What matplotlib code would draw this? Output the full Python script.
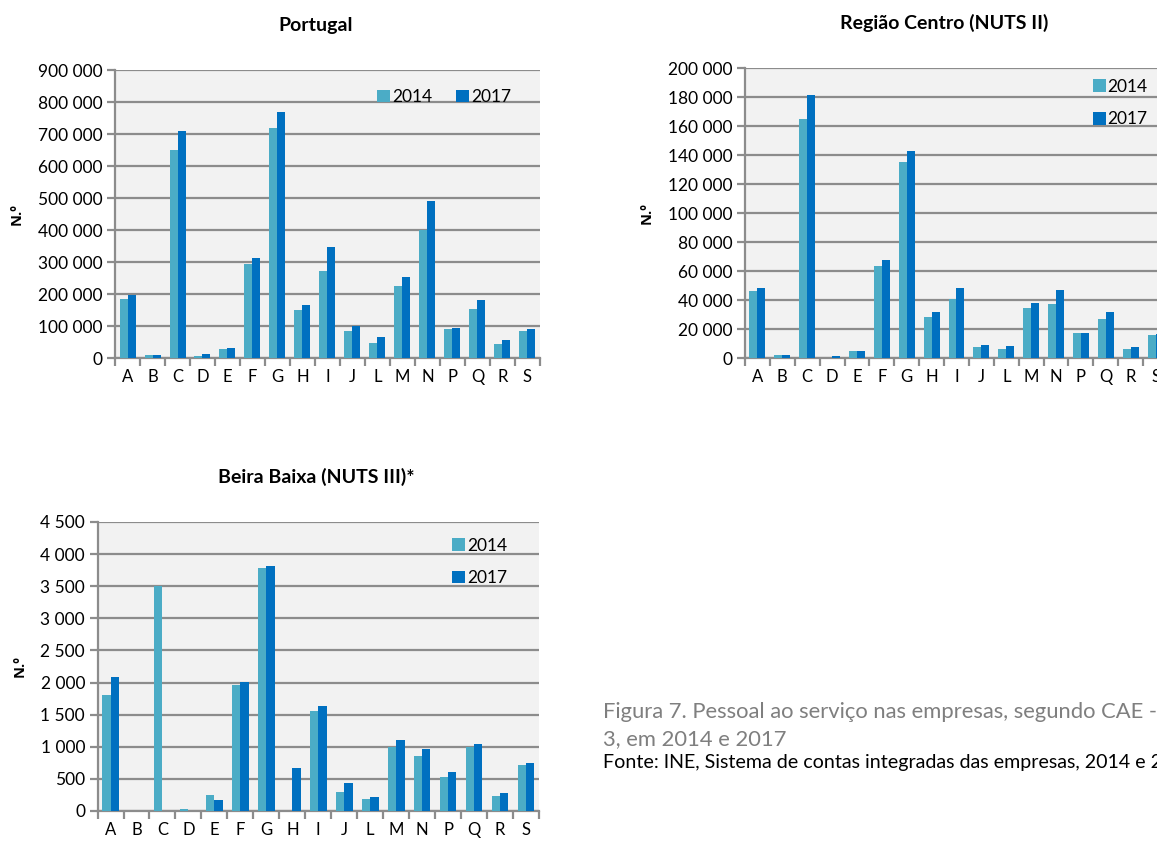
import matplotlib
matplotlib.use("Agg")
import matplotlib.pyplot as plt
from matplotlib.ticker import FuncFormatter, MultipleLocator, FixedLocator
import numpy as np

plt.rcParams['font.family'] = ['Lato', 'DejaVu Sans']

cae = ['A', 'B', 'C', 'D', 'E', 'F', 'G', 'H', 'I', 'J', 'L', 'M', 'N', 'P', 'Q', 'R', 'S']

pt_2014 = [184000, 8000, 649000, 7000, 29000, 294000, 719000, 151000, 272000,
           84000, 46000, 224000, 399000, 92000, 154000, 44000, 83000]
pt_2017 = [198000, 8000, 711000, 12500, 32000, 312000, 768000, 166000, 346000,
           101000, 65000, 254000, 490000, 95000, 180000, 57000, 90000]

centro_2014 = [46000, 2300, 165000, 200, 4600, 63600, 135000, 28600, 40600,
               7600, 6200, 34300, 37300, 17300, 27200, 6200, 15700]
centro_2017 = [48400, 2300, 181600, 1600, 5100, 67500, 142900, 32000, 48400,
               9200, 8100, 38200, 47000, 17300, 31800, 7600, 16800]

bb_2014 = [1804, 0, 3499, 31, 249, 1954, 3779, 0, 1555,
           295, 187, 995, 850, 534, 995, 233, 710]
bb_2017 = [2084, 0, 0, 0, 171, 2006, 3820, 669, 1638,
           430, 218, 1109, 969, 607, 1047, 280, 752]

C14 = '#4bacc6'
C17 = '#0070c0'
GRID = '#8c8c8c'


def spaced(v, pos):
    return '{:,.0f}'.format(v).replace(',', ' ')


def draw(rect, title, title_x, v14, v17, ymax, step, leg_anchor, ncol):
    ax = fig.add_axes(rect)
    x = np.arange(len(cae))
    w = 0.32
    ax.bar(x - w / 2, v14, w, color=C14, label='2014', zorder=3)
    ax.bar(x + w / 2, v17, w, color=C17, label='2017', zorder=3)
    ax.set_facecolor('#f2f2f2')
    ax.set_xlim(-0.5, len(cae) - 0.5)
    ax.set_ylim(0, ymax)
    ax.yaxis.set_major_locator(MultipleLocator(step))
    ax.yaxis.set_major_formatter(FuncFormatter(spaced))
    ax.grid(axis='y', color=GRID, linewidth=1.6, zorder=0)
    ax.set_axisbelow(True)
    for s in ['top', 'right']:
        ax.spines[s].set_visible(False)
    for s in ['left', 'bottom']:
        ax.spines[s].set_color(GRID)
        ax.spines[s].set_linewidth(1.6)
    ax.set_xticks(x)
    ax.set_xticklabels(cae)
    ax.xaxis.set_minor_locator(FixedLocator(np.arange(-0.5, len(cae), 1)))
    ax.tick_params(axis='x', which='major', length=0, pad=8, labelsize=12)
    ax.tick_params(axis='x', which='minor', length=6, width=1.6, color=GRID)
    ax.tick_params(axis='y', length=6, width=1.6, color=GRID, labelsize=12.5, pad=3)
    ax.set_ylabel('N.º', fontsize=10.5, fontweight='bold', labelpad=10,
                  family=['Open Sans', 'DejaVu Sans'])
    ax.set_title(title, fontsize=14, fontweight='bold', pad=28, x=title_x)
    ax.legend(loc='center', bbox_to_anchor=leg_anchor, ncol=ncol, frameon=False,
              fontsize=12.5, handlelength=0.75, handleheight=0.75, handletextpad=0.12,
              columnspacing=1.35, labelspacing=0.95, borderpad=0)
    return ax


fig = plt.figure(figsize=(11.57, 8.43), dpi=100)

draw([0.0994, 0.5753, 0.3673, 0.3416], 'Portugal', 0.473, pt_2014, pt_2017,
     900000, 100000, (0.774, 0.906), 2)
draw([0.6439, 0.5753, 0.3656, 0.3440], 'Região Centro (NUTS II)', 0.470, centro_2014, centro_2017,
     200000, 20000, (0.887, 0.879), 1)
draw([0.0843, 0.0380, 0.3816, 0.3428], 'Beira Baixa (NUTS III)*', 0.495, bb_2014, bb_2017,
     4500, 500, (0.866, 0.862), 1)

fig.text(0.521, 0.1113, 'Figura 7. Pessoal ao serviço nas empresas, segundo CAE - Rev.\n3, em 2014 e 2017',
         fontsize=15.8, color='#7f7f7f', va='bottom', ha='left', linespacing=1.42)
fig.text(0.521, 0.086, 'Fonte: INE, Sistema de contas integradas das empresas, 2014 e 2017',
         fontsize=14.1, color='black', va='bottom', ha='left')

fig.savefig('out.png', dpi=100)
